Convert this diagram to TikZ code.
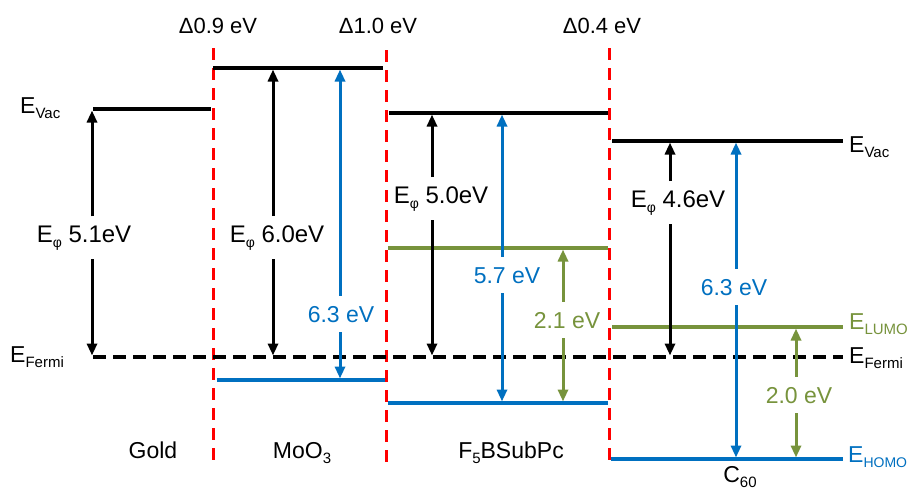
\documentclass[tikz,border=0pt]{standalone}
\usepackage{fontspec}
\setmainfont{Liberation Sans}
\usetikzlibrary{arrows.meta}
\definecolor{hblue}{RGB}{0,112,192}
\definecolor{lgreen}{RGB}{119,147,60}
\definecolor{ired}{RGB}{255,0,0}
\newcommand\lsub[1]{\raisebox{-5pt}{\fontsize{15}{15}\selectfont #1}}
\newcommand\phisub{\raisebox{-5pt}{\fontsize{14}{14}\selectfont φ}}

\begin{document}
\begin{tikzpicture}[x=1pt, y=-1pt,
  every node/.style={inner sep=0pt},
  txt/.style   ={font=\fontsize{23}{23}\selectfont, anchor=base},
  dlt/.style   ={font=\fontsize{22}{22}\selectfont, anchor=base},
  side/.style  ={font=\fontsize{23}{23}\selectfont, anchor=base west},
  phi/.style   ={font=\fontsize{24}{24}\selectfont, anchor=base, inner ysep=9pt},
  gapb/.style  ={txt, hblue, inner ysep=10pt},
  gapg/.style  ={txt, lgreen, inner ysep=10pt},
  lvl/.style   ={line width=3.3pt},
  iface/.style ={draw=ired, line width=3pt, dash pattern=on 12pt off 8pt},
  fermi/.style ={line width=3.3pt, dash pattern=on 13pt off 7pt},
  arr/.style   ={-{Triangle[length=12pt,width=10pt]}, line width=3pt}
]
\useasboundingbox (0,0) rectangle (909,490);
\fill[white] (0,0) rectangle (909,490);

% --- interfaces ---
\draw[iface] (213,48) -- (213,460);
\draw[iface] (386,50) -- (386,463);
\draw[iface] (609,48) -- (609,465);
\node[dlt] (dAu)  at (218,33) {Δ0.9 eV};
\node[dlt] (dMo)  at (378,33) {Δ1.0 eV};
\node[dlt] (dSub) at (602,33) {Δ0.4 eV};

% --- vacuum levels ---
\draw[lvl] (93,109) -- (211,109);
\draw[lvl] (213,68) -- (383,68);
\draw[lvl] (389,113) -- (608,113);
\draw[lvl] (612,141) -- (843,141);
% --- LUMO / HOMO ---
\draw[lvl, lgreen] (388,248) -- (608,248);
\draw[lvl, lgreen] (612,327) -- (843,327);
\draw[lvl, hblue] (217,380) -- (385,380);
\draw[lvl, hblue] (388,403) -- (608,403);
\draw[lvl, hblue] (611,459) -- (843,459);
% --- Fermi level ---
\draw[fermi] (93,357) -- (843,357);

% --- level labels ---
\node[side] (vacL)   at (20,113)  {E\lsub{Vac}};
\node[side] (fermiL) at (10,362)  {E\lsub{Fermi}};
\node[side] (vacR)   at (849,152) {E\lsub{Vac}};
\node[side, lgreen] (lumoR) at (849,329) {E\lsub{LUMO}};
\node[side] (fermiR) at (849,363) {E\lsub{Fermi}};
\node[side, hblue] (homoR) at (848,462) {E{\raisebox{-5pt}{\fontsize{14}{14}\selectfont HOMO}}};

% --- material names ---
\node[txt] (gold) at (153,458) {Gold};
\node[txt] (moo)  at (302,458) {MoO\lsub{3}};
\node[txt] (sub)  at (511,458) {F\lsub{5}BSubPc};
\node[txt] (cso)  at (740,482) {C\lsub{60}};

% --- gap labels ---
\node[phi]  (phiAu)  at (84,242)  {E\phisub\ 5.1eV};
\node[phi]  (phiMo)  at (277,242) {E\phisub\ 6.0eV};
\node[phi]  (phiSub) at (441,203) {E\phisub\ 5.0eV};
\node[phi]  (phiC)   at (678,207) {E\phisub\ 4.6eV};
\node[gapb] (ipMo)   at (341,322) {6.3 eV};
\node[gapb] (ipSub)  at (507,283) {5.7 eV};
\node[gapg] (egSub)  at (567,328) {2.1 eV};
\node[gapb] (ipC)    at (734,295) {6.3 eV};
\node[gapg] (egC)    at (799,403) {2.0 eV};

% --- arrow ends on the levels ---
\coordinate (auUp)    at (92,110.5);  \coordinate (auDn)    at (92,355.5);
\coordinate (moUp)    at (273,69.5);  \coordinate (moDn)    at (273,355.5);
\coordinate (moIpUp)  at (340,69.5);  \coordinate (moIpDn)  at (340,378.5);
\coordinate (subUp)   at (432,114.5); \coordinate (subDn)   at (432,355.5);
\coordinate (subIpUp) at (502,114.5); \coordinate (subIpDn) at (502,401.5);
\coordinate (subEgUp) at (563,249.5); \coordinate (subEgDn) at (563,401.5);
\coordinate (cUp)     at (670,142.5); \coordinate (cDn)     at (670,355.5);
\coordinate (cIpUp)   at (736,142.5); \coordinate (cIpDn)   at (736,457.5);
\coordinate (cEgUp)   at (796,328.5); \coordinate (cEgDn)   at (796,457.5);

% --- work functions ---
\draw[arr] (phiAu.north -| auUp) -- (auUp);
\draw[arr] (phiAu.south -| auDn) -- (auDn);
\draw[arr] (phiMo.north -| moUp) -- (moUp);
\draw[arr] (phiMo.south -| moDn) -- (moDn);
\draw[arr] (phiSub.north -| subUp) -- (subUp);
\draw[arr] (phiSub.south -| subDn) -- (subDn);
\draw[arr] (phiC.north -| cUp) -- (cUp);
\draw[arr] (phiC.south -| cDn) -- (cDn);

% --- ionisation energies ---
\draw[arr, hblue] (ipMo.north -| moIpUp) -- (moIpUp);
\draw[arr, hblue] (ipMo.south -| moIpDn) -- (moIpDn);
\draw[arr, hblue] (ipSub.north -| subIpUp) -- (subIpUp);
\draw[arr, hblue] (ipSub.south -| subIpDn) -- (subIpDn);
\draw[arr, hblue] (ipC.north -| cIpUp) -- (cIpUp);
\draw[arr, hblue] (ipC.south -| cIpDn) -- (cIpDn);

% --- transport gaps ---
\draw[arr, lgreen] (egSub.north -| subEgUp) -- (subEgUp);
\draw[arr, lgreen] (egSub.south -| subEgDn) -- (subEgDn);
\draw[arr, lgreen] (egC.north -| cEgUp) -- (cEgUp);
\draw[arr, lgreen] (egC.south -| cEgDn) -- (cEgDn);

\end{tikzpicture}
\end{document}
